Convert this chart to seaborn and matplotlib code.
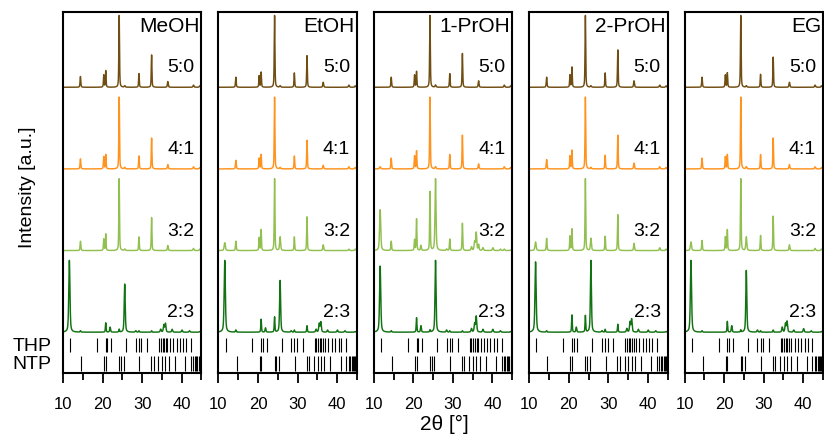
import numpy as np
import pandas as pd
import matplotlib.pyplot as plt
import seaborn as sns

sns.set_style('ticks')
plt.rcParams['font.family'] = ['Liberation Sans', 'DejaVu Sans']
plt.rcParams['text.color'] = 'black'
plt.rcParams['xtick.color'] = 'black'
plt.rcParams['xtick.labelcolor'] = 'black'
plt.rcParams['xtick.major.size'] = 7
plt.rcParams['xtick.minor.size'] = 5
plt.rcParams['xtick.major.width'] = 1.3
plt.rcParams['xtick.minor.width'] = 1.3
plt.rcParams['xtick.major.pad'] = 9.5
plt.rcParams['xtick.labelsize'] = 12

solvents = ['MeOH', 'EtOH', '1-PrOH', '2-PrOH', 'EG']
ratios = ['5:0', '4:1', '3:2', '2:3']
ratioColors = ['#704d12', '#ff931e', '#92c050', '#127312']

# peak positions (2theta) shared by all patterns, with their widths
peakPos = [11.6, 14.4, 20.3, 20.8, 21.9, 24.2, 25.6, 28.4, 29.2, 32.4,
           34.7, 35.5, 35.9, 36.5, 37.6, 40.1, 42.0, 43.0, 44.6]
peakFwhm = [0.35, 0.22, 0.2, 0.2, 0.25, 0.2, 0.3, 0.3, 0.2, 0.2,
            0.3, 0.3, 0.3, 0.25, 0.3, 0.3, 0.3, 0.3, 0.3]

# relative peak heights per solvent, rows in order 5:0, 4:1, 3:2, 2:3
heightsMeOH = [
    [0, .15, .17, .23, 0, 1, .02, 0, .19, .45, 0, 0, 0, .08, 0, 0, 0, .03, .02],
    [0, .14, .17, .20, 0, 1, .02, 0, .18, .43, 0, 0, 0, .06, 0, 0, 0, .03, .02],
    [0, .13, .16, .23, 0, 1, .02, 0, .19, .46, 0, 0, 0, .07, 0, 0, 0, .03, .02],
    [1, .02, 0, .13, .07, .04, .67, .02, .02, .02, .04, .10, .12, 0, .04, .03, .02, 0, .01],
]
heightsEtOH = [
    [0, .14, .16, .21, 0, 1, .02, 0, .20, .44, 0, 0, 0, .07, 0, 0, 0, .03, .02],
    [0, .12, .15, .20, 0, 1, .02, 0, .18, .40, 0, 0, 0, .05, 0, 0, 0, .03, .02],
    [.11, .13, .18, .29, 0, 1, .19, 0, .19, .47, 0, 0, 0, .08, 0, 0, 0, .02, .02],
    [1, .03, 0, .18, .06, .21, .72, .02, .03, .09, .04, .12, .14, 0, .03, .03, .02, 0, .01],
]
heights1PrOH = [
    [0, .14, .17, .22, 0, 1, .03, 0, .19, .47, 0, 0, 0, .09, 0, 0, 0, .03, .02],
    [.03, .15, .18, .25, 0, 1, .03, 0, .20, .47, 0, 0, 0, .07, 0, 0, 0, .03, .02],
    [.57, .13, .15, .44, .07, .82, 1, .02, .16, .38, .05, .12, .25, .08, .04, .04, .02, .02, .01],
    [.92, .02, 0, .20, .09, .03, 1, .03, .02, .02, .05, .12, .22, 0, .04, .04, .02, 0, .01],
]
heights2PrOH = [
    [0, .14, .17, .28, 0, 1, .02, 0, .20, .52, 0, 0, 0, .09, 0, 0, 0, .03, .02],
    [0, .13, .18, .26, 0, 1, .02, 0, .19, .47, 0, 0, 0, .08, 0, 0, 0, .03, .02],
    [.12, .17, .20, .30, 0, 1, .17, 0, .20, .50, 0, 0, 0, .10, 0, 0, 0, .04, .02],
    [.98, .02, 0, .24, .07, .23, 1, .02, .04, .11, .05, .14, .18, 0, .04, .03, .02, 0, .01],
]
heightsEG = [
    [0, .14, .17, .20, 0, 1, .02, 0, .18, .42, 0, 0, 0, .07, 0, 0, 0, .03, .02],
    [0, .15, .17, .20, 0, 1, .03, 0, .20, .43, 0, 0, 0, .06, 0, 0, 0, .03, .02],
    [.12, .14, .19, .29, 0, 1, .19, 0, .21, .48, 0, 0, 0, .08, 0, 0, 0, .03, .02],
    [1, .02, 0, .15, .09, .03, .86, .03, .02, .03, .07, .12, .15, 0, .03, .05, .02, 0, .01],
]
heightsBySolvent = [heightsMeOH, heightsEtOH, heights1PrOH, heights2PrOH, heightsEG]

# reference reflections
thpPos = [11.8, 18.6, 20.8, 21.2, 22.2, 26.0, 28.4, 29.2, 29.8, 31.3, 34.3, 34.7,
          35.2, 35.6, 36.0, 36.4, 37.0, 37.8, 38.7, 39.5, 40.4, 41.1, 42.3]
ntpPos = [14.6, 20.4, 20.8, 24.2, 24.6, 25.3, 29.3, 32.3, 32.9, 34.1, 35.1, 35.9,
          36.8, 38.3, 40.9, 42.3, 42.9, 43.3, 43.7, 44.0, 44.3, 44.6, 44.9]

twoTheta = np.arange(10, 45.01, 0.01)


def pattern(heights):
    y = np.zeros_like(twoTheta)
    for p, w, h in zip(peakPos, peakFwhm, heights):
        lor = 1 / (1 + ((twoTheta - p) / (w / 2)) ** 2)
        gau = np.exp(-4 * np.log(2) * ((twoTheta - p) / w) ** 2)
        y += h * (0.5 * lor + 0.5 * gau)
    return y / y.max()


fig, axes = plt.subplots(1, 5, figsize=(8.24, 4.39), dpi=100, sharey=True)
fig.subplots_adjust(left=0.0765, right=0.9988, bottom=0.148, top=0.970, wspace=0.123)

for ax, solvent, heights in zip(axes, solvents, heightsBySolvent):
    frames = []
    for i, (ratio, h) in enumerate(zip(ratios, heights)):
        offset = 3 - i
        frames.append(pd.DataFrame({'two_theta': twoTheta,
                                    'intensity': offset + 0.88 * pattern(h),
                                    'ratio': ratio}))
        ax.text(0.95, offset + 0.25, ratio, transform=ax.get_yaxis_transform(),
                ha='right', va='center', fontsize=14, color='black')
    data = pd.concat(frames)
    sns.lineplot(data=data, x='two_theta', y='intensity', hue='ratio', hue_order=ratios,
                 palette=ratioColors, estimator=None, sort=False, lw=1.05, legend=False, ax=ax)

    ax.vlines(thpPos, -0.245, -0.07, color='black', lw=0.8)
    ax.vlines(ntpPos, -0.48, -0.29, color='black', lw=0.8)

    ax.set_xlim(10, 45)
    ax.set_ylim(-0.5, 3.92)
    ax.set_xticks([10, 20, 30, 40])
    ax.set_xticks([15, 25, 35, 45], minor=True)
    ax.set_yticks([])
    for s in ax.spines.values():
        s.set_linewidth(1.5)
        s.set_color('black')
    ax.set_xlabel('')
    ax.set_ylabel('')
    ax.text(0.985, 0.99, solvent, transform=ax.transAxes, ha='right', va='top',
            fontsize=15, color='black')

axes[0].text(-0.085, -0.16, 'THP', transform=axes[0].get_yaxis_transform(),
             ha='right', va='center', fontsize=14)
axes[0].text(-0.085, -0.385, 'NTP', transform=axes[0].get_yaxis_transform(),
             ha='right', va='center', fontsize=14)
fig.text(444 / 824, 1 - 424 / 439, '2θ [°]', ha='center', va='center', fontsize=15)
fig.text(28 / 824, 1 - 187 / 439, 'Intensity [a.u.]', rotation=90,
         ha='center', va='center', fontsize=14)

fig.savefig('out.png', dpi=100)
